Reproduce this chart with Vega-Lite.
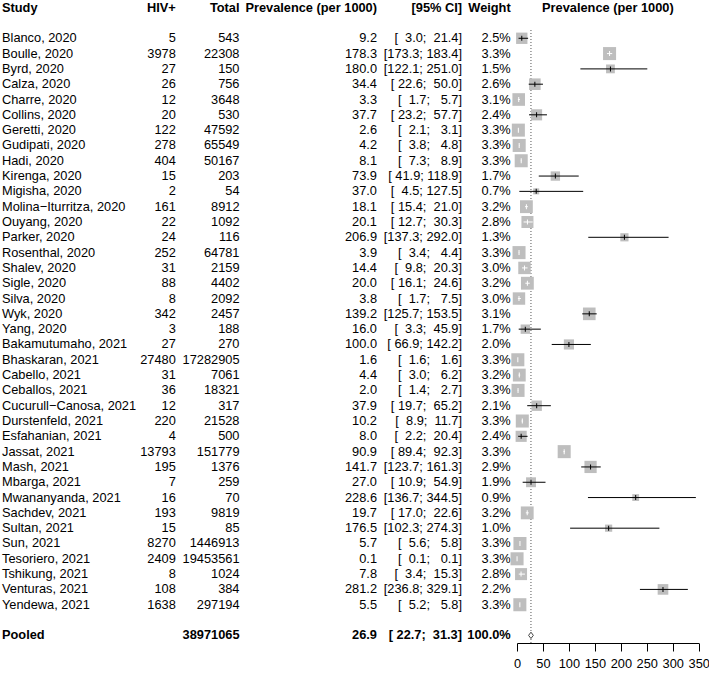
{
  "$schema": "https://vega.github.io/schema/vega-lite/v6.json",
  "padding": {"left": 2, "top": 0, "right": 0, "bottom": 0},
  "autosize": "pad",
  "spacing": 0,
  "bounds": "flush",
  "config": {
    "view": {"stroke": null},
    "text": {"font": "Liberation Sans", "fontSize": 12.8, "baseline": "middle", "color": "black"},
    "axis": {"labelFont": "Liberation Sans", "labelFontSize": 12.8, "labelColor": "black", "domainColor": "black", "tickColor": "black", "grid": false, "title": null, "tickSize": 8, "labelPadding": 6, "labelFlush": false, "labelOverlap": false}
  },
  "datasets": {
    "studies": [
      {"study": "Blanco, 2020", "hiv": 5, "total": 543, "prev": 9.2, "lo": 3.0, "hi": 21.4, "ci": "[\u00a0\u00a03.0;\u00a0\u00a021.4]", "w": 0.025},
      {"study": "Boulle, 2020", "hiv": 3978, "total": 22308, "prev": 178.3, "lo": 173.3, "hi": 183.4, "ci": "[173.3;\u00a0183.4]", "w": 0.033},
      {"study": "Byrd, 2020", "hiv": 27, "total": 150, "prev": 180.0, "lo": 122.1, "hi": 251.0, "ci": "[122.1;\u00a0251.0]", "w": 0.015},
      {"study": "Calza, 2020", "hiv": 26, "total": 756, "prev": 34.4, "lo": 22.6, "hi": 50.0, "ci": "[\u00a022.6;\u00a0\u00a050.0]", "w": 0.026},
      {"study": "Charre, 2020", "hiv": 12, "total": 3648, "prev": 3.3, "lo": 1.7, "hi": 5.7, "ci": "[\u00a0\u00a01.7;\u00a0\u00a0\u00a05.7]", "w": 0.031},
      {"study": "Collins, 2020", "hiv": 20, "total": 530, "prev": 37.7, "lo": 23.2, "hi": 57.7, "ci": "[\u00a023.2;\u00a0\u00a057.7]", "w": 0.024},
      {"study": "Geretti, 2020", "hiv": 122, "total": 47592, "prev": 2.6, "lo": 2.1, "hi": 3.1, "ci": "[\u00a0\u00a02.1;\u00a0\u00a0\u00a03.1]", "w": 0.033},
      {"study": "Gudipati, 2020", "hiv": 278, "total": 65549, "prev": 4.2, "lo": 3.8, "hi": 4.8, "ci": "[\u00a0\u00a03.8;\u00a0\u00a0\u00a04.8]", "w": 0.033},
      {"study": "Hadi, 2020", "hiv": 404, "total": 50167, "prev": 8.1, "lo": 7.3, "hi": 8.9, "ci": "[\u00a0\u00a07.3;\u00a0\u00a0\u00a08.9]", "w": 0.033},
      {"study": "Kirenga, 2020", "hiv": 15, "total": 203, "prev": 73.9, "lo": 41.9, "hi": 118.9, "ci": "[\u00a041.9;\u00a0118.9]", "w": 0.017},
      {"study": "Migisha, 2020", "hiv": 2, "total": 54, "prev": 37.0, "lo": 4.5, "hi": 127.5, "ci": "[\u00a0\u00a04.5;\u00a0127.5]", "w": 0.007},
      {"study": "Molina−Iturritza, 2020", "hiv": 161, "total": 8912, "prev": 18.1, "lo": 15.4, "hi": 21.0, "ci": "[\u00a015.4;\u00a0\u00a021.0]", "w": 0.032},
      {"study": "Ouyang, 2020", "hiv": 22, "total": 1092, "prev": 20.1, "lo": 12.7, "hi": 30.3, "ci": "[\u00a012.7;\u00a0\u00a030.3]", "w": 0.028},
      {"study": "Parker, 2020", "hiv": 24, "total": 116, "prev": 206.9, "lo": 137.3, "hi": 292.0, "ci": "[137.3;\u00a0292.0]", "w": 0.013},
      {"study": "Rosenthal, 2020", "hiv": 252, "total": 64781, "prev": 3.9, "lo": 3.4, "hi": 4.4, "ci": "[\u00a0\u00a03.4;\u00a0\u00a0\u00a04.4]", "w": 0.033},
      {"study": "Shalev, 2020", "hiv": 31, "total": 2159, "prev": 14.4, "lo": 9.8, "hi": 20.3, "ci": "[\u00a0\u00a09.8;\u00a0\u00a020.3]", "w": 0.030},
      {"study": "Sigle, 2020", "hiv": 88, "total": 4402, "prev": 20.0, "lo": 16.1, "hi": 24.6, "ci": "[\u00a016.1;\u00a0\u00a024.6]", "w": 0.032},
      {"study": "Silva, 2020", "hiv": 8, "total": 2092, "prev": 3.8, "lo": 1.7, "hi": 7.5, "ci": "[\u00a0\u00a01.7;\u00a0\u00a0\u00a07.5]", "w": 0.030},
      {"study": "Wyk, 2020", "hiv": 342, "total": 2457, "prev": 139.2, "lo": 125.7, "hi": 153.5, "ci": "[125.7;\u00a0153.5]", "w": 0.031},
      {"study": "Yang, 2020", "hiv": 3, "total": 188, "prev": 16.0, "lo": 3.3, "hi": 45.9, "ci": "[\u00a0\u00a03.3;\u00a0\u00a045.9]", "w": 0.017},
      {"study": "Bakamutumaho, 2021", "hiv": 27, "total": 270, "prev": 100.0, "lo": 66.9, "hi": 142.2, "ci": "[\u00a066.9;\u00a0142.2]", "w": 0.020},
      {"study": "Bhaskaran, 2021", "hiv": 27480, "total": 17282905, "prev": 1.6, "lo": 1.6, "hi": 1.6, "ci": "[\u00a0\u00a01.6;\u00a0\u00a0\u00a01.6]", "w": 0.033},
      {"study": "Cabello, 2021", "hiv": 31, "total": 7061, "prev": 4.4, "lo": 3.0, "hi": 6.2, "ci": "[\u00a0\u00a03.0;\u00a0\u00a0\u00a06.2]", "w": 0.032},
      {"study": "Ceballos, 2021", "hiv": 36, "total": 18321, "prev": 2.0, "lo": 1.4, "hi": 2.7, "ci": "[\u00a0\u00a01.4;\u00a0\u00a0\u00a02.7]", "w": 0.033},
      {"study": "Cucurull−Canosa, 2021", "hiv": 12, "total": 317, "prev": 37.9, "lo": 19.7, "hi": 65.2, "ci": "[\u00a019.7;\u00a0\u00a065.2]", "w": 0.021},
      {"study": "Durstenfeld, 2021", "hiv": 220, "total": 21528, "prev": 10.2, "lo": 8.9, "hi": 11.7, "ci": "[\u00a0\u00a08.9;\u00a0\u00a011.7]", "w": 0.033},
      {"study": "Esfahanian, 2021", "hiv": 4, "total": 500, "prev": 8.0, "lo": 2.2, "hi": 20.4, "ci": "[\u00a0\u00a02.2;\u00a0\u00a020.4]", "w": 0.024},
      {"study": "Jassat, 2021", "hiv": 13793, "total": 151779, "prev": 90.9, "lo": 89.4, "hi": 92.3, "ci": "[\u00a089.4;\u00a0\u00a092.3]", "w": 0.033},
      {"study": "Mash, 2021", "hiv": 195, "total": 1376, "prev": 141.7, "lo": 123.7, "hi": 161.3, "ci": "[123.7;\u00a0161.3]", "w": 0.029},
      {"study": "Mbarga, 2021", "hiv": 7, "total": 259, "prev": 27.0, "lo": 10.9, "hi": 54.9, "ci": "[\u00a010.9;\u00a0\u00a054.9]", "w": 0.019},
      {"study": "Mwananyanda, 2021", "hiv": 16, "total": 70, "prev": 228.6, "lo": 136.7, "hi": 344.5, "ci": "[136.7;\u00a0344.5]", "w": 0.009},
      {"study": "Sachdev, 2021", "hiv": 193, "total": 9819, "prev": 19.7, "lo": 17.0, "hi": 22.6, "ci": "[\u00a017.0;\u00a0\u00a022.6]", "w": 0.032},
      {"study": "Sultan, 2021", "hiv": 15, "total": 85, "prev": 176.5, "lo": 102.3, "hi": 274.3, "ci": "[102.3;\u00a0274.3]", "w": 0.010},
      {"study": "Sun, 2021", "hiv": 8270, "total": 1446913, "prev": 5.7, "lo": 5.6, "hi": 5.8, "ci": "[\u00a0\u00a05.6;\u00a0\u00a0\u00a05.8]", "w": 0.033},
      {"study": "Tesoriero, 2021", "hiv": 2409, "total": 19453561, "prev": 0.1, "lo": 0.1, "hi": 0.1, "ci": "[\u00a0\u00a00.1;\u00a0\u00a0\u00a00.1]", "w": 0.033},
      {"study": "Tshikung, 2021", "hiv": 8, "total": 1024, "prev": 7.8, "lo": 3.4, "hi": 15.3, "ci": "[\u00a0\u00a03.4;\u00a0\u00a015.3]", "w": 0.028},
      {"study": "Venturas, 2021", "hiv": 108, "total": 384, "prev": 281.2, "lo": 236.8, "hi": 329.1, "ci": "[236.8;\u00a0329.1]", "w": 0.022},
      {"study": "Yendewa, 2021", "hiv": 1638, "total": 297194, "prev": 5.5, "lo": 5.2, "hi": 5.8, "ci": "[\u00a0\u00a05.2;\u00a0\u00a0\u00a05.8]", "w": 0.033}
    ],
    "pooled": [
      {"study": "Pooled", "total": 38971065, "prev": 26.9, "lo": 22.7, "hi": 31.3, "ci": "[\u00a022.7;\u00a0\u00a031.3]", "w": 1.0}
    ]
  },
  "hconcat": [
    {
      "width": 118, "height": 643,
      "layer": [
        {"data": {"values": [{"label": "Study"}]}, "mark": {"type": "text", "align": "left", "fontWeight": "bold"},
         "encoding": {"x": {"value": 0}, "text": {"field": "label"},
          "y": {"datum": "header", "type": "nominal", "axis": null, "scale": {"type": "point", "padding": 0.5, "domain": ["header", "gap1", "Blanco, 2020", "Boulle, 2020", "Byrd, 2020", "Calza, 2020", "Charre, 2020", "Collins, 2020", "Geretti, 2020", "Gudipati, 2020", "Hadi, 2020", "Kirenga, 2020", "Migisha, 2020", "Molina−Iturritza, 2020", "Ouyang, 2020", "Parker, 2020", "Rosenthal, 2020", "Shalev, 2020", "Sigle, 2020", "Silva, 2020", "Wyk, 2020", "Yang, 2020", "Bakamutumaho, 2021", "Bhaskaran, 2021", "Cabello, 2021", "Ceballos, 2021", "Cucurull−Canosa, 2021", "Durstenfeld, 2021", "Esfahanian, 2021", "Jassat, 2021", "Mash, 2021", "Mbarga, 2021", "Mwananyanda, 2021", "Sachdev, 2021", "Sultan, 2021", "Sun, 2021", "Tesoriero, 2021", "Tshikung, 2021", "Venturas, 2021", "Yendewa, 2021", "gap2", "Pooled"]}}}},
        {"data": {"name": "studies"}, "mark": {"type": "text", "align": "left"},
         "encoding": {"x": {"value": 0}, "text": {"field": "study"},
          "y": {"field": "study", "type": "nominal", "axis": null, "scale": {"type": "point", "padding": 0.5, "domain": ["header", "gap1", "Blanco, 2020", "Boulle, 2020", "Byrd, 2020", "Calza, 2020", "Charre, 2020", "Collins, 2020", "Geretti, 2020", "Gudipati, 2020", "Hadi, 2020", "Kirenga, 2020", "Migisha, 2020", "Molina−Iturritza, 2020", "Ouyang, 2020", "Parker, 2020", "Rosenthal, 2020", "Shalev, 2020", "Sigle, 2020", "Silva, 2020", "Wyk, 2020", "Yang, 2020", "Bakamutumaho, 2021", "Bhaskaran, 2021", "Cabello, 2021", "Ceballos, 2021", "Cucurull−Canosa, 2021", "Durstenfeld, 2021", "Esfahanian, 2021", "Jassat, 2021", "Mash, 2021", "Mbarga, 2021", "Mwananyanda, 2021", "Sachdev, 2021", "Sultan, 2021", "Sun, 2021", "Tesoriero, 2021", "Tshikung, 2021", "Venturas, 2021", "Yendewa, 2021", "gap2", "Pooled"]}}}},
        {"data": {"name": "pooled"}, "mark": {"type": "text", "align": "left", "fontWeight": "bold"},
         "encoding": {"x": {"value": 0}, "text": {"field": "study"},
          "y": {"field": "study", "type": "nominal", "axis": null, "scale": {"type": "point", "padding": 0.5, "domain": ["header", "gap1", "Blanco, 2020", "Boulle, 2020", "Byrd, 2020", "Calza, 2020", "Charre, 2020", "Collins, 2020", "Geretti, 2020", "Gudipati, 2020", "Hadi, 2020", "Kirenga, 2020", "Migisha, 2020", "Molina−Iturritza, 2020", "Ouyang, 2020", "Parker, 2020", "Rosenthal, 2020", "Shalev, 2020", "Sigle, 2020", "Silva, 2020", "Wyk, 2020", "Yang, 2020", "Bakamutumaho, 2021", "Bhaskaran, 2021", "Cabello, 2021", "Ceballos, 2021", "Cucurull−Canosa, 2021", "Durstenfeld, 2021", "Esfahanian, 2021", "Jassat, 2021", "Mash, 2021", "Mbarga, 2021", "Mwananyanda, 2021", "Sachdev, 2021", "Sultan, 2021", "Sun, 2021", "Tesoriero, 2021", "Tshikung, 2021", "Venturas, 2021", "Yendewa, 2021", "gap2", "Pooled"]}}}}
      ]
    },
    {
      "width": 55.8, "height": 643,
      "layer": [
        {"data": {"values": [{"label": "HIV+"}]}, "mark": {"type": "text", "align": "right", "fontWeight": "bold"},
         "encoding": {"x": {"value": "width"}, "text": {"field": "label"},
          "y": {"datum": "header", "type": "nominal", "axis": null, "scale": {"type": "point", "padding": 0.5, "domain": ["header", "gap1", "Blanco, 2020", "Boulle, 2020", "Byrd, 2020", "Calza, 2020", "Charre, 2020", "Collins, 2020", "Geretti, 2020", "Gudipati, 2020", "Hadi, 2020", "Kirenga, 2020", "Migisha, 2020", "Molina−Iturritza, 2020", "Ouyang, 2020", "Parker, 2020", "Rosenthal, 2020", "Shalev, 2020", "Sigle, 2020", "Silva, 2020", "Wyk, 2020", "Yang, 2020", "Bakamutumaho, 2021", "Bhaskaran, 2021", "Cabello, 2021", "Ceballos, 2021", "Cucurull−Canosa, 2021", "Durstenfeld, 2021", "Esfahanian, 2021", "Jassat, 2021", "Mash, 2021", "Mbarga, 2021", "Mwananyanda, 2021", "Sachdev, 2021", "Sultan, 2021", "Sun, 2021", "Tesoriero, 2021", "Tshikung, 2021", "Venturas, 2021", "Yendewa, 2021", "gap2", "Pooled"]}}}},
        {"data": {"name": "studies"}, "mark": {"type": "text", "align": "right"},
         "encoding": {"x": {"value": "width"}, "text": {"field": "hiv", "type": "quantitative", "format": "d"},
          "y": {"field": "study", "type": "nominal", "axis": null, "scale": {"type": "point", "padding": 0.5, "domain": ["header", "gap1", "Blanco, 2020", "Boulle, 2020", "Byrd, 2020", "Calza, 2020", "Charre, 2020", "Collins, 2020", "Geretti, 2020", "Gudipati, 2020", "Hadi, 2020", "Kirenga, 2020", "Migisha, 2020", "Molina−Iturritza, 2020", "Ouyang, 2020", "Parker, 2020", "Rosenthal, 2020", "Shalev, 2020", "Sigle, 2020", "Silva, 2020", "Wyk, 2020", "Yang, 2020", "Bakamutumaho, 2021", "Bhaskaran, 2021", "Cabello, 2021", "Ceballos, 2021", "Cucurull−Canosa, 2021", "Durstenfeld, 2021", "Esfahanian, 2021", "Jassat, 2021", "Mash, 2021", "Mbarga, 2021", "Mwananyanda, 2021", "Sachdev, 2021", "Sultan, 2021", "Sun, 2021", "Tesoriero, 2021", "Tshikung, 2021", "Venturas, 2021", "Yendewa, 2021", "gap2", "Pooled"]}}}}
      ]
    },
    {
      "width": 63.5, "height": 643,
      "layer": [
        {"data": {"values": [{"label": "Total"}]}, "mark": {"type": "text", "align": "right", "fontWeight": "bold"},
         "encoding": {"x": {"value": "width"}, "text": {"field": "label"},
          "y": {"datum": "header", "type": "nominal", "axis": null, "scale": {"type": "point", "padding": 0.5, "domain": ["header", "gap1", "Blanco, 2020", "Boulle, 2020", "Byrd, 2020", "Calza, 2020", "Charre, 2020", "Collins, 2020", "Geretti, 2020", "Gudipati, 2020", "Hadi, 2020", "Kirenga, 2020", "Migisha, 2020", "Molina−Iturritza, 2020", "Ouyang, 2020", "Parker, 2020", "Rosenthal, 2020", "Shalev, 2020", "Sigle, 2020", "Silva, 2020", "Wyk, 2020", "Yang, 2020", "Bakamutumaho, 2021", "Bhaskaran, 2021", "Cabello, 2021", "Ceballos, 2021", "Cucurull−Canosa, 2021", "Durstenfeld, 2021", "Esfahanian, 2021", "Jassat, 2021", "Mash, 2021", "Mbarga, 2021", "Mwananyanda, 2021", "Sachdev, 2021", "Sultan, 2021", "Sun, 2021", "Tesoriero, 2021", "Tshikung, 2021", "Venturas, 2021", "Yendewa, 2021", "gap2", "Pooled"]}}}},
        {"data": {"name": "studies"}, "mark": {"type": "text", "align": "right"},
         "encoding": {"x": {"value": "width"}, "text": {"field": "total", "type": "quantitative", "format": "d"},
          "y": {"field": "study", "type": "nominal", "axis": null, "scale": {"type": "point", "padding": 0.5, "domain": ["header", "gap1", "Blanco, 2020", "Boulle, 2020", "Byrd, 2020", "Calza, 2020", "Charre, 2020", "Collins, 2020", "Geretti, 2020", "Gudipati, 2020", "Hadi, 2020", "Kirenga, 2020", "Migisha, 2020", "Molina−Iturritza, 2020", "Ouyang, 2020", "Parker, 2020", "Rosenthal, 2020", "Shalev, 2020", "Sigle, 2020", "Silva, 2020", "Wyk, 2020", "Yang, 2020", "Bakamutumaho, 2021", "Bhaskaran, 2021", "Cabello, 2021", "Ceballos, 2021", "Cucurull−Canosa, 2021", "Durstenfeld, 2021", "Esfahanian, 2021", "Jassat, 2021", "Mash, 2021", "Mbarga, 2021", "Mwananyanda, 2021", "Sachdev, 2021", "Sultan, 2021", "Sun, 2021", "Tesoriero, 2021", "Tshikung, 2021", "Venturas, 2021", "Yendewa, 2021", "gap2", "Pooled"]}}}},
        {"data": {"name": "pooled"}, "mark": {"type": "text", "align": "right", "fontWeight": "bold"},
         "encoding": {"x": {"value": "width"}, "text": {"field": "total", "type": "quantitative", "format": "d"},
          "y": {"field": "study", "type": "nominal", "axis": null, "scale": {"type": "point", "padding": 0.5, "domain": ["header", "gap1", "Blanco, 2020", "Boulle, 2020", "Byrd, 2020", "Calza, 2020", "Charre, 2020", "Collins, 2020", "Geretti, 2020", "Gudipati, 2020", "Hadi, 2020", "Kirenga, 2020", "Migisha, 2020", "Molina−Iturritza, 2020", "Ouyang, 2020", "Parker, 2020", "Rosenthal, 2020", "Shalev, 2020", "Sigle, 2020", "Silva, 2020", "Wyk, 2020", "Yang, 2020", "Bakamutumaho, 2021", "Bhaskaran, 2021", "Cabello, 2021", "Ceballos, 2021", "Cucurull−Canosa, 2021", "Durstenfeld, 2021", "Esfahanian, 2021", "Jassat, 2021", "Mash, 2021", "Mbarga, 2021", "Mwananyanda, 2021", "Sachdev, 2021", "Sultan, 2021", "Sun, 2021", "Tesoriero, 2021", "Tshikung, 2021", "Venturas, 2021", "Yendewa, 2021", "gap2", "Pooled"]}}}}
      ]
    },
    {
      "width": 137, "height": 643,
      "layer": [
        {"data": {"values": [{"label": "Prevalence (per 1000)"}]}, "mark": {"type": "text", "align": "right", "fontWeight": "bold"},
         "encoding": {"x": {"value": "width"}, "text": {"field": "label"},
          "y": {"datum": "header", "type": "nominal", "axis": null, "scale": {"type": "point", "padding": 0.5, "domain": ["header", "gap1", "Blanco, 2020", "Boulle, 2020", "Byrd, 2020", "Calza, 2020", "Charre, 2020", "Collins, 2020", "Geretti, 2020", "Gudipati, 2020", "Hadi, 2020", "Kirenga, 2020", "Migisha, 2020", "Molina−Iturritza, 2020", "Ouyang, 2020", "Parker, 2020", "Rosenthal, 2020", "Shalev, 2020", "Sigle, 2020", "Silva, 2020", "Wyk, 2020", "Yang, 2020", "Bakamutumaho, 2021", "Bhaskaran, 2021", "Cabello, 2021", "Ceballos, 2021", "Cucurull−Canosa, 2021", "Durstenfeld, 2021", "Esfahanian, 2021", "Jassat, 2021", "Mash, 2021", "Mbarga, 2021", "Mwananyanda, 2021", "Sachdev, 2021", "Sultan, 2021", "Sun, 2021", "Tesoriero, 2021", "Tshikung, 2021", "Venturas, 2021", "Yendewa, 2021", "gap2", "Pooled"]}}}},
        {"data": {"name": "studies"}, "mark": {"type": "text", "align": "right"},
         "encoding": {"x": {"value": "width"}, "text": {"field": "prev", "type": "quantitative", "format": ".1f"},
          "y": {"field": "study", "type": "nominal", "axis": null, "scale": {"type": "point", "padding": 0.5, "domain": ["header", "gap1", "Blanco, 2020", "Boulle, 2020", "Byrd, 2020", "Calza, 2020", "Charre, 2020", "Collins, 2020", "Geretti, 2020", "Gudipati, 2020", "Hadi, 2020", "Kirenga, 2020", "Migisha, 2020", "Molina−Iturritza, 2020", "Ouyang, 2020", "Parker, 2020", "Rosenthal, 2020", "Shalev, 2020", "Sigle, 2020", "Silva, 2020", "Wyk, 2020", "Yang, 2020", "Bakamutumaho, 2021", "Bhaskaran, 2021", "Cabello, 2021", "Ceballos, 2021", "Cucurull−Canosa, 2021", "Durstenfeld, 2021", "Esfahanian, 2021", "Jassat, 2021", "Mash, 2021", "Mbarga, 2021", "Mwananyanda, 2021", "Sachdev, 2021", "Sultan, 2021", "Sun, 2021", "Tesoriero, 2021", "Tshikung, 2021", "Venturas, 2021", "Yendewa, 2021", "gap2", "Pooled"]}}}},
        {"data": {"name": "pooled"}, "mark": {"type": "text", "align": "right", "fontWeight": "bold"},
         "encoding": {"x": {"value": "width"}, "text": {"field": "prev", "type": "quantitative", "format": ".1f"},
          "y": {"field": "study", "type": "nominal", "axis": null, "scale": {"type": "point", "padding": 0.5, "domain": ["header", "gap1", "Blanco, 2020", "Boulle, 2020", "Byrd, 2020", "Calza, 2020", "Charre, 2020", "Collins, 2020", "Geretti, 2020", "Gudipati, 2020", "Hadi, 2020", "Kirenga, 2020", "Migisha, 2020", "Molina−Iturritza, 2020", "Ouyang, 2020", "Parker, 2020", "Rosenthal, 2020", "Shalev, 2020", "Sigle, 2020", "Silva, 2020", "Wyk, 2020", "Yang, 2020", "Bakamutumaho, 2021", "Bhaskaran, 2021", "Cabello, 2021", "Ceballos, 2021", "Cucurull−Canosa, 2021", "Durstenfeld, 2021", "Esfahanian, 2021", "Jassat, 2021", "Mash, 2021", "Mbarga, 2021", "Mwananyanda, 2021", "Sachdev, 2021", "Sultan, 2021", "Sun, 2021", "Tesoriero, 2021", "Tshikung, 2021", "Venturas, 2021", "Yendewa, 2021", "gap2", "Pooled"]}}}}
      ]
    },
    {
      "width": 85, "height": 643,
      "layer": [
        {"data": {"values": [{"label": "[95% CI]"}]}, "mark": {"type": "text", "align": "right", "fontWeight": "bold"},
         "encoding": {"x": {"value": "width"}, "text": {"field": "label"},
          "y": {"datum": "header", "type": "nominal", "axis": null, "scale": {"type": "point", "padding": 0.5, "domain": ["header", "gap1", "Blanco, 2020", "Boulle, 2020", "Byrd, 2020", "Calza, 2020", "Charre, 2020", "Collins, 2020", "Geretti, 2020", "Gudipati, 2020", "Hadi, 2020", "Kirenga, 2020", "Migisha, 2020", "Molina−Iturritza, 2020", "Ouyang, 2020", "Parker, 2020", "Rosenthal, 2020", "Shalev, 2020", "Sigle, 2020", "Silva, 2020", "Wyk, 2020", "Yang, 2020", "Bakamutumaho, 2021", "Bhaskaran, 2021", "Cabello, 2021", "Ceballos, 2021", "Cucurull−Canosa, 2021", "Durstenfeld, 2021", "Esfahanian, 2021", "Jassat, 2021", "Mash, 2021", "Mbarga, 2021", "Mwananyanda, 2021", "Sachdev, 2021", "Sultan, 2021", "Sun, 2021", "Tesoriero, 2021", "Tshikung, 2021", "Venturas, 2021", "Yendewa, 2021", "gap2", "Pooled"]}}}},
        {"data": {"name": "studies"}, "mark": {"type": "text", "align": "right"},
         "encoding": {"x": {"value": "width"}, "text": {"field": "ci"},
          "y": {"field": "study", "type": "nominal", "axis": null, "scale": {"type": "point", "padding": 0.5, "domain": ["header", "gap1", "Blanco, 2020", "Boulle, 2020", "Byrd, 2020", "Calza, 2020", "Charre, 2020", "Collins, 2020", "Geretti, 2020", "Gudipati, 2020", "Hadi, 2020", "Kirenga, 2020", "Migisha, 2020", "Molina−Iturritza, 2020", "Ouyang, 2020", "Parker, 2020", "Rosenthal, 2020", "Shalev, 2020", "Sigle, 2020", "Silva, 2020", "Wyk, 2020", "Yang, 2020", "Bakamutumaho, 2021", "Bhaskaran, 2021", "Cabello, 2021", "Ceballos, 2021", "Cucurull−Canosa, 2021", "Durstenfeld, 2021", "Esfahanian, 2021", "Jassat, 2021", "Mash, 2021", "Mbarga, 2021", "Mwananyanda, 2021", "Sachdev, 2021", "Sultan, 2021", "Sun, 2021", "Tesoriero, 2021", "Tshikung, 2021", "Venturas, 2021", "Yendewa, 2021", "gap2", "Pooled"]}}}},
        {"data": {"name": "pooled"}, "mark": {"type": "text", "align": "right", "fontWeight": "bold"},
         "encoding": {"x": {"value": "width"}, "text": {"field": "ci"},
          "y": {"field": "study", "type": "nominal", "axis": null, "scale": {"type": "point", "padding": 0.5, "domain": ["header", "gap1", "Blanco, 2020", "Boulle, 2020", "Byrd, 2020", "Calza, 2020", "Charre, 2020", "Collins, 2020", "Geretti, 2020", "Gudipati, 2020", "Hadi, 2020", "Kirenga, 2020", "Migisha, 2020", "Molina−Iturritza, 2020", "Ouyang, 2020", "Parker, 2020", "Rosenthal, 2020", "Shalev, 2020", "Sigle, 2020", "Silva, 2020", "Wyk, 2020", "Yang, 2020", "Bakamutumaho, 2021", "Bhaskaran, 2021", "Cabello, 2021", "Ceballos, 2021", "Cucurull−Canosa, 2021", "Durstenfeld, 2021", "Esfahanian, 2021", "Jassat, 2021", "Mash, 2021", "Mbarga, 2021", "Mwananyanda, 2021", "Sachdev, 2021", "Sultan, 2021", "Sun, 2021", "Tesoriero, 2021", "Tshikung, 2021", "Venturas, 2021", "Yendewa, 2021", "gap2", "Pooled"]}}}}
      ]
    },
    {
      "width": 54.7, "height": 643,
      "layer": [
        {"data": {"values": [{"label": "Weight"}]}, "mark": {"type": "text", "align": "right", "fontWeight": "bold", "dx": -6},
         "encoding": {"x": {"value": "width"}, "text": {"field": "label"},
          "y": {"datum": "header", "type": "nominal", "axis": null, "scale": {"type": "point", "padding": 0.5, "domain": ["header", "gap1", "Blanco, 2020", "Boulle, 2020", "Byrd, 2020", "Calza, 2020", "Charre, 2020", "Collins, 2020", "Geretti, 2020", "Gudipati, 2020", "Hadi, 2020", "Kirenga, 2020", "Migisha, 2020", "Molina−Iturritza, 2020", "Ouyang, 2020", "Parker, 2020", "Rosenthal, 2020", "Shalev, 2020", "Sigle, 2020", "Silva, 2020", "Wyk, 2020", "Yang, 2020", "Bakamutumaho, 2021", "Bhaskaran, 2021", "Cabello, 2021", "Ceballos, 2021", "Cucurull−Canosa, 2021", "Durstenfeld, 2021", "Esfahanian, 2021", "Jassat, 2021", "Mash, 2021", "Mbarga, 2021", "Mwananyanda, 2021", "Sachdev, 2021", "Sultan, 2021", "Sun, 2021", "Tesoriero, 2021", "Tshikung, 2021", "Venturas, 2021", "Yendewa, 2021", "gap2", "Pooled"]}}}},
        {"data": {"name": "studies"}, "mark": {"type": "text", "align": "right", "dx": -6},
         "encoding": {"x": {"value": "width"}, "text": {"field": "w", "type": "quantitative", "format": ".1%"},
          "y": {"field": "study", "type": "nominal", "axis": null, "scale": {"type": "point", "padding": 0.5, "domain": ["header", "gap1", "Blanco, 2020", "Boulle, 2020", "Byrd, 2020", "Calza, 2020", "Charre, 2020", "Collins, 2020", "Geretti, 2020", "Gudipati, 2020", "Hadi, 2020", "Kirenga, 2020", "Migisha, 2020", "Molina−Iturritza, 2020", "Ouyang, 2020", "Parker, 2020", "Rosenthal, 2020", "Shalev, 2020", "Sigle, 2020", "Silva, 2020", "Wyk, 2020", "Yang, 2020", "Bakamutumaho, 2021", "Bhaskaran, 2021", "Cabello, 2021", "Ceballos, 2021", "Cucurull−Canosa, 2021", "Durstenfeld, 2021", "Esfahanian, 2021", "Jassat, 2021", "Mash, 2021", "Mbarga, 2021", "Mwananyanda, 2021", "Sachdev, 2021", "Sultan, 2021", "Sun, 2021", "Tesoriero, 2021", "Tshikung, 2021", "Venturas, 2021", "Yendewa, 2021", "gap2", "Pooled"]}}}},
        {"data": {"name": "pooled"}, "mark": {"type": "text", "align": "right", "fontWeight": "bold", "dx": -6},
         "encoding": {"x": {"value": "width"}, "text": {"field": "w", "type": "quantitative", "format": ".1%"},
          "y": {"field": "study", "type": "nominal", "axis": null, "scale": {"type": "point", "padding": 0.5, "domain": ["header", "gap1", "Blanco, 2020", "Boulle, 2020", "Byrd, 2020", "Calza, 2020", "Charre, 2020", "Collins, 2020", "Geretti, 2020", "Gudipati, 2020", "Hadi, 2020", "Kirenga, 2020", "Migisha, 2020", "Molina−Iturritza, 2020", "Ouyang, 2020", "Parker, 2020", "Rosenthal, 2020", "Shalev, 2020", "Sigle, 2020", "Silva, 2020", "Wyk, 2020", "Yang, 2020", "Bakamutumaho, 2021", "Bhaskaran, 2021", "Cabello, 2021", "Ceballos, 2021", "Cucurull−Canosa, 2021", "Durstenfeld, 2021", "Esfahanian, 2021", "Jassat, 2021", "Mash, 2021", "Mbarga, 2021", "Mwananyanda, 2021", "Sachdev, 2021", "Sultan, 2021", "Sun, 2021", "Tesoriero, 2021", "Tshikung, 2021", "Venturas, 2021", "Yendewa, 2021", "gap2", "Pooled"]}}}}
      ]
    },
    {
      "width": 181.7, "height": 643,
      "layer": [
        {"data": {"values": [{"label": "Prevalence (per 1000)", "mid": 175}]}, "mark": {"type": "text", "align": "center", "fontWeight": "bold"},
         "encoding": {"x": {"field": "mid", "type": "quantitative", "scale": {"domain": [0, 350], "nice": false, "zero": false}, "axis": {"values": [0, 50, 100, 150, 200, 250, 300, 350]}}, "text": {"field": "label"},
          "y": {"datum": "header", "type": "nominal", "axis": null, "scale": {"type": "point", "padding": 0.5, "domain": ["header", "gap1", "Blanco, 2020", "Boulle, 2020", "Byrd, 2020", "Calza, 2020", "Charre, 2020", "Collins, 2020", "Geretti, 2020", "Gudipati, 2020", "Hadi, 2020", "Kirenga, 2020", "Migisha, 2020", "Molina−Iturritza, 2020", "Ouyang, 2020", "Parker, 2020", "Rosenthal, 2020", "Shalev, 2020", "Sigle, 2020", "Silva, 2020", "Wyk, 2020", "Yang, 2020", "Bakamutumaho, 2021", "Bhaskaran, 2021", "Cabello, 2021", "Ceballos, 2021", "Cucurull−Canosa, 2021", "Durstenfeld, 2021", "Esfahanian, 2021", "Jassat, 2021", "Mash, 2021", "Mbarga, 2021", "Mwananyanda, 2021", "Sachdev, 2021", "Sultan, 2021", "Sun, 2021", "Tesoriero, 2021", "Tshikung, 2021", "Venturas, 2021", "Yendewa, 2021", "gap2", "Pooled"]}}}},
        {"data": {"name": "pooled"}, "mark": {"type": "rule", "strokeDash": [1, 2], "color": "#555555", "strokeWidth": 1, "yOffset": 30, "y2Offset": -12},
         "encoding": {"x": {"field": "prev", "type": "quantitative", "scale": {"domain": [0, 350], "nice": false, "zero": false}, "axis": {"values": [0, 50, 100, 150, 200, 250, 300, 350]}}}},
        {"data": {"name": "studies"}, "mark": {"type": "square", "color": "#bebebe", "opacity": 1},
         "encoding": {"x": {"field": "prev", "type": "quantitative", "scale": {"domain": [0, 350], "nice": false, "zero": false}, "axis": {"values": [0, 50, 100, 150, 200, 250, 300, 350]}},
          "size": {"field": "w", "type": "quantitative", "legend": null, "scale": {"type": "linear", "domain": [0, 0.033], "range": [0, 170], "zero": true}},
          "y": {"field": "study", "type": "nominal", "axis": null, "scale": {"type": "point", "padding": 0.5, "domain": ["header", "gap1", "Blanco, 2020", "Boulle, 2020", "Byrd, 2020", "Calza, 2020", "Charre, 2020", "Collins, 2020", "Geretti, 2020", "Gudipati, 2020", "Hadi, 2020", "Kirenga, 2020", "Migisha, 2020", "Molina−Iturritza, 2020", "Ouyang, 2020", "Parker, 2020", "Rosenthal, 2020", "Shalev, 2020", "Sigle, 2020", "Silva, 2020", "Wyk, 2020", "Yang, 2020", "Bakamutumaho, 2021", "Bhaskaran, 2021", "Cabello, 2021", "Ceballos, 2021", "Cucurull−Canosa, 2021", "Durstenfeld, 2021", "Esfahanian, 2021", "Jassat, 2021", "Mash, 2021", "Mbarga, 2021", "Mwananyanda, 2021", "Sachdev, 2021", "Sultan, 2021", "Sun, 2021", "Tesoriero, 2021", "Tshikung, 2021", "Venturas, 2021", "Yendewa, 2021", "gap2", "Pooled"]}}}},
        {"data": {"name": "studies"}, "mark": {"type": "rule", "strokeWidth": 1},
         "encoding": {"x": {"field": "lo", "type": "quantitative", "scale": {"domain": [0, 350], "nice": false, "zero": false}, "axis": {"values": [0, 50, 100, 150, 200, 250, 300, 350]}}, "x2": {"field": "hi"},
          "color": {"condition": {"test": "(datum.hi - datum.prev) * 0.519 <= sqrt(5151.5 * datum.w) / 2 && (datum.prev - datum.lo) * 0.519 <= sqrt(5151.5 * datum.w) / 2", "value": "white"}, "value": "black"},
          "y": {"field": "study", "type": "nominal", "axis": null, "scale": {"type": "point", "padding": 0.5, "domain": ["header", "gap1", "Blanco, 2020", "Boulle, 2020", "Byrd, 2020", "Calza, 2020", "Charre, 2020", "Collins, 2020", "Geretti, 2020", "Gudipati, 2020", "Hadi, 2020", "Kirenga, 2020", "Migisha, 2020", "Molina−Iturritza, 2020", "Ouyang, 2020", "Parker, 2020", "Rosenthal, 2020", "Shalev, 2020", "Sigle, 2020", "Silva, 2020", "Wyk, 2020", "Yang, 2020", "Bakamutumaho, 2021", "Bhaskaran, 2021", "Cabello, 2021", "Ceballos, 2021", "Cucurull−Canosa, 2021", "Durstenfeld, 2021", "Esfahanian, 2021", "Jassat, 2021", "Mash, 2021", "Mbarga, 2021", "Mwananyanda, 2021", "Sachdev, 2021", "Sultan, 2021", "Sun, 2021", "Tesoriero, 2021", "Tshikung, 2021", "Venturas, 2021", "Yendewa, 2021", "gap2", "Pooled"]}}}},
        {"data": {"name": "studies"}, "mark": {"type": "tick", "size": 5, "thickness": 1, "opacity": 1},
         "encoding": {"x": {"field": "prev", "type": "quantitative", "scale": {"domain": [0, 350], "nice": false, "zero": false}, "axis": {"values": [0, 50, 100, 150, 200, 250, 300, 350]}},
          "color": {"condition": {"test": "(datum.hi - datum.prev) * 0.519 <= sqrt(5151.5 * datum.w) / 2 && (datum.prev - datum.lo) * 0.519 <= sqrt(5151.5 * datum.w) / 2", "value": "white"}, "value": "black"},
          "y": {"field": "study", "type": "nominal", "axis": null, "scale": {"type": "point", "padding": 0.5, "domain": ["header", "gap1", "Blanco, 2020", "Boulle, 2020", "Byrd, 2020", "Calza, 2020", "Charre, 2020", "Collins, 2020", "Geretti, 2020", "Gudipati, 2020", "Hadi, 2020", "Kirenga, 2020", "Migisha, 2020", "Molina−Iturritza, 2020", "Ouyang, 2020", "Parker, 2020", "Rosenthal, 2020", "Shalev, 2020", "Sigle, 2020", "Silva, 2020", "Wyk, 2020", "Yang, 2020", "Bakamutumaho, 2021", "Bhaskaran, 2021", "Cabello, 2021", "Ceballos, 2021", "Cucurull−Canosa, 2021", "Durstenfeld, 2021", "Esfahanian, 2021", "Jassat, 2021", "Mash, 2021", "Mbarga, 2021", "Mwananyanda, 2021", "Sachdev, 2021", "Sultan, 2021", "Sun, 2021", "Tesoriero, 2021", "Tshikung, 2021", "Venturas, 2021", "Yendewa, 2021", "gap2", "Pooled"]}}}},
        {"data": {"name": "pooled"}, "mark": {"type": "point", "shape": "M0,-1L0.75,0L0,1L-0.75,0Z", "size": 40, "filled": true, "fill": "white", "stroke": "#444444", "strokeWidth": 1, "opacity": 1},
         "encoding": {"x": {"field": "prev", "type": "quantitative", "scale": {"domain": [0, 350], "nice": false, "zero": false}, "axis": {"values": [0, 50, 100, 150, 200, 250, 300, 350]}},
          "y": {"field": "study", "type": "nominal", "axis": null, "scale": {"type": "point", "padding": 0.5, "domain": ["header", "gap1", "Blanco, 2020", "Boulle, 2020", "Byrd, 2020", "Calza, 2020", "Charre, 2020", "Collins, 2020", "Geretti, 2020", "Gudipati, 2020", "Hadi, 2020", "Kirenga, 2020", "Migisha, 2020", "Molina−Iturritza, 2020", "Ouyang, 2020", "Parker, 2020", "Rosenthal, 2020", "Shalev, 2020", "Sigle, 2020", "Silva, 2020", "Wyk, 2020", "Yang, 2020", "Bakamutumaho, 2021", "Bhaskaran, 2021", "Cabello, 2021", "Ceballos, 2021", "Cucurull−Canosa, 2021", "Durstenfeld, 2021", "Esfahanian, 2021", "Jassat, 2021", "Mash, 2021", "Mbarga, 2021", "Mwananyanda, 2021", "Sachdev, 2021", "Sultan, 2021", "Sun, 2021", "Tesoriero, 2021", "Tshikung, 2021", "Venturas, 2021", "Yendewa, 2021", "gap2", "Pooled"]}}}}
      ]
    }
  ]
}
